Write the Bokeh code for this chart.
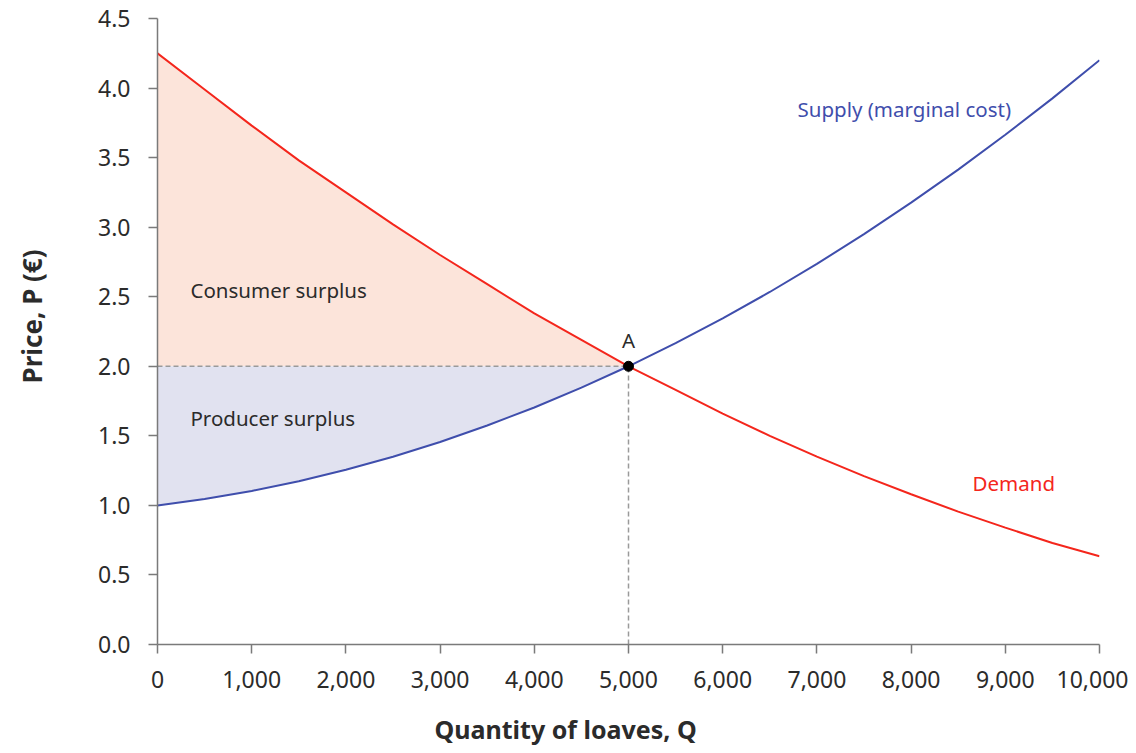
from bokeh.plotting import figure
from bokeh.models import Range1d, FixedTicker, Label, ColumnDataSource, Title
from bokeh.embed import file_html
from bokeh.resources import INLINE

# ---- data ----
quantity = [0, 500, 1000, 1500, 2000, 2500, 3000, 3500, 4000, 4500, 5000,
            5500, 6000, 6500, 7000, 7500, 8000, 8500, 9000, 9500, 10000]
demand_price = [4.25, 3.99, 3.73, 3.48, 3.25, 3.02, 2.80, 2.59, 2.38, 2.19, 2.00,
                1.83, 1.66, 1.50, 1.35, 1.21, 1.08, 0.955, 0.84, 0.73, 0.635]
supply_price = [1.00, 1.046, 1.104, 1.174, 1.256, 1.35, 1.456, 1.574, 1.704, 1.846, 2.00,
                2.166, 2.344, 2.534, 2.736, 2.95, 3.176, 3.414, 3.664, 3.926, 4.20]
eq_quantity = 5000
eq_price = 2.0

x_ticks = [0, 1000, 2000, 3000, 4000, 5000, 6000, 7000, 8000, 9000, 10000]
x_tick_labels = ["0", "1,000", "2,000", "3,000", "4,000", "5,000", "6,000",
                 "7,000", "8,000", "9,000", "10,000"]
y_ticks = [0, 0.5, 1.0, 1.5, 2.0, 2.5, 3.0, 3.5, 4.0, 4.5]
y_tick_labels = ["0.0", "0.5", "1.0", "1.5", "2.0", "2.5", "3.0", "3.5", "4.0", "4.5"]

FONT = "Noto Sans"
RED = "#f4261c"
BLUE = "#3f4eac"
TEXT = "#2b2b2b"
AXIS = "#7a7a7a"

p = figure(width=1128, height=745, output_backend="svg", toolbar_location=None,
           x_range=Range1d(0, 10000), y_range=Range1d(0, 4.5),
           min_border_left=157, min_border_top=18, min_border_right=29, min_border_bottom=101)
p.outline_line_color = None
p.grid.visible = False
p.background_fill_color = "white"
p.border_fill_color = "white"

# surplus areas
n_eq = quantity.index(eq_quantity) + 1
cs = ColumnDataSource(dict(q=quantity[:n_eq], d=demand_price[:n_eq], s=supply_price[:n_eq],
                           e=[eq_price] * n_eq))
p.varea(x="q", y1="e", y2="d", source=cs, fill_color="#fce4da")
p.varea(x="q", y1="s", y2="e", source=cs, fill_color="#e1e2f0")

# dashed guide lines
p.line([0, eq_quantity], [eq_price, eq_price], line_color="#9a9a9a", line_width=1.5, line_dash="5 3")
p.line([eq_quantity, eq_quantity], [0, eq_price], line_color="#9a9a9a", line_width=1.5, line_dash="5 3")

# curves
p.line(quantity, demand_price, line_color=RED, line_width=2)
p.line(quantity, supply_price, line_color=BLUE, line_width=2)

# equilibrium point
p.scatter([eq_quantity], [eq_price], size=10, color="black")

# axes
for ax in (p.xaxis[0], p.yaxis[0]):
    ax.axis_line_color = AXIS
    ax.axis_line_width = 1.5
    ax.major_tick_line_color = AXIS
    ax.major_tick_line_width = 1.5
    ax.major_tick_in = 0
    ax.major_tick_out = 9
    ax.minor_tick_line_color = None
    ax.major_label_text_font = FONT
    ax.major_label_text_font_size = "23px"
    ax.major_label_text_color = TEXT

p.xaxis.ticker = FixedTicker(ticks=x_ticks)
p.xaxis.major_label_overrides = dict(zip(x_ticks, x_tick_labels))
p.xaxis.major_label_standoff = 17
p.yaxis.ticker = FixedTicker(ticks=y_ticks)
p.yaxis.major_label_overrides = dict(zip(y_ticks, y_tick_labels))
p.yaxis.major_label_standoff = 18

# in-plot annotations
def add_label(x, y, text, color=TEXT, size="20.5px", align="left"):
    p.add_layout(Label(x=x, y=y, text=text, text_color=color, text_font=FONT,
                       text_font_size=size, text_align=align, text_baseline="middle"))

add_label(350, 2.55, "Consumer surplus")
add_label(350, 1.63, "Producer surplus")
add_label(eq_quantity, 2.19, "A", align="center")
add_label(6794, 3.85, "Supply (marginal cost)", color=BLUE)
add_label(8652, 1.16, "Demand", color=RED)

# spacers between the axes and the axis titles
p.add_layout(Title(text=" ", text_font_size="1px", standoff=16), "below")
p.add_layout(Title(text=" ", text_font_size="1px", standoff=43), "left")

# axis titles
p.add_layout(Title(text="Quantity of loaves, Q", text_font=FONT, text_font_size="25px",
                   text_font_style="bold", text_color=TEXT, align="left", offset=277,
                   standoff=0, vertical_align="bottom"), "below")
p.add_layout(Title(text="Price, P (€)", text_font=FONT, text_font_size="26px",
                   text_font_style="bold", text_color=TEXT, align="left", offset=261,
                   standoff=0, vertical_align="bottom"), "left")

open("out.html", "w").write(file_html(p, INLINE))
